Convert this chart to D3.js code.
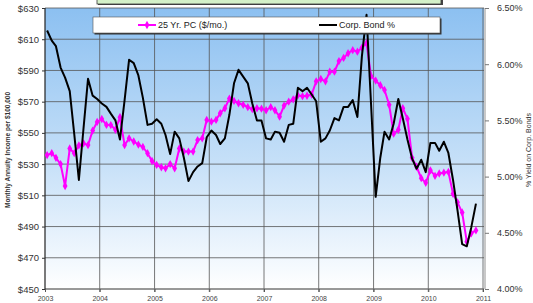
<!DOCTYPE html>
<html lang="en">
<head>
<meta charset="UTF-8">
<title>Annuity income vs. corporate bond yield</title>
<style>
body { margin: 0; background: #fff; }
text { font-family: Arial, "Liberation Sans", sans-serif; }
.axis .domain { display: none; }
</style>
</head>
<body>
<svg width="533" height="303"></svg>
<script src="https://d3js.org/d3.v7.min.js"></script>
<script>

// monthly readings, Jan 2003 .. Nov 2010
var payout = [
  535.8, 537, 534, 530, 516, 540, 537, 542, 543.3, 542.2, 551.5, 557,
  558.9, 555.1, 555, 552, 560, 542.2, 546.5, 544.5, 542.5, 541, 537, 532,
  529.5, 528, 527.3, 530, 527.3, 540, 538, 538, 538, 545.4, 546.5, 558.3,
  557.2, 558.3, 562.6, 565.8, 572, 570.5, 569, 568, 566.5, 565.2, 565.8, 565.5,
  564.5, 566.5, 564.5, 560.4, 567.5, 570, 571.5, 574, 573.5, 573.8, 574.5, 583,
  584.5, 583, 589.2, 589.2, 596, 598, 601, 603, 602, 604.5, 607.4, 586.5,
  583.5, 580.5, 577.5, 568, 549.5, 552, 565.8, 559, 534, 528.3, 521, 518,
  526, 522.5, 524, 524.5, 525, 511, 505.5, 499, 480.3, 485.7, 487.5
];
var bondYield = [
  6.30, 6.21, 6.16, 5.97, 5.88, 5.76, 5.38, 4.97, 5.43, 5.87, 5.72, 5.69,
  5.65, 5.62, 5.56, 5.50, 5.33, 5.68, 6.04, 6.01, 5.90, 5.70, 5.46, 5.47,
  5.51, 5.47, 5.37, 5.20, 5.40, 5.34, 5.17, 4.96, 5.04, 5.09, 5.12, 5.35,
  5.41, 5.37, 5.29, 5.34, 5.55, 5.83, 5.95, 5.89, 5.83, 5.65, 5.50, 5.50,
  5.34, 5.33, 5.40, 5.39, 5.31, 5.46, 5.47, 5.79, 5.76, 5.79, 5.73, 5.67,
  5.31, 5.34, 5.41, 5.52, 5.50, 5.62, 5.62, 5.68, 5.53, 6.07, 6.44, 5.65,
  4.82, 5.17, 5.40, 5.33, 5.47, 5.69, 5.52, 5.33, 5.16, 5.07, 5.15, 5.04,
  5.30, 5.30, 5.23, 5.31, 5.21, 4.97, 4.70, 4.40, 4.38, 4.55, 4.76
];
var years = [2003, 2004, 2005, 2006, 2007, 2008, 2009, 2010, 2011];
var incomeTicks = [450, 470, 490, 510, 530, 550, 570, 590, 610, 630];
var yieldTicks = [4.0, 4.5, 5.0, 5.5, 6.0, 6.5];
var legendNames = ["25 Yr. PC ($/mo.)", "Corp. Bond %"];

var svg = d3.select("svg"),
    plot = {left: 45, right: 484, top: 8, bottom: 289};

var x = d3.scaleTime()
    .domain([new Date(2003, 0, 1), new Date(2011, 0, 1)])
    .range([plot.left, 483]);
var y = d3.scaleLinear().domain([450, 630]).range([plot.bottom, plot.top]);
var y2 = d3.scaleLinear().domain([4, 6.5]).range([plot.bottom, plot.top]);

var month = function(i) { return new Date(2003, i, 15); };

var defs = svg.append("defs");
var grad = defs.append("linearGradient")
    .attr("id", "bg").attr("x1", 0).attr("y1", 0).attr("x2", 0).attr("y2", 1);
grad.append("stop").attr("offset", "0%").attr("stop-color", "#8cc0f1");
grad.append("stop").attr("offset", "55%").attr("stop-color", "#c6e0f8");
grad.append("stop").attr("offset", "100%").attr("stop-color", "#ffffff");

// cut-off title box at the very top
svg.append("rect")
    .attr("x", 98).attr("y", -10).attr("width", 345).attr("height", 15)
    .attr("fill", "#444");
svg.append("rect")
    .attr("x", 97).attr("y", -10).attr("width", 344).attr("height", 14)
    .attr("fill", "#d4f1c8").attr("stroke", "#3a3a3a").attr("stroke-width", 0.8);

svg.append("rect")
    .attr("x", plot.left).attr("y", plot.top)
    .attr("width", plot.right - plot.left).attr("height", plot.bottom - plot.top)
    .attr("fill", "url(#bg)");

// grid
svg.append("g")
  .selectAll("line")
  .data(incomeTicks)
  .enter().append("line")
    .attr("x1", plot.left).attr("x2", plot.right)
    .attr("y1", function(d) { return y(d); })
    .attr("y2", function(d) { return y(d); })
    .attr("stroke", "#555").attr("stroke-width", 0.8);

svg.append("g")
  .selectAll("line")
  .data(years.slice(1))
  .enter().append("line")
    .attr("x1", function(d) { return x(new Date(d, 0, 1)); })
    .attr("x2", function(d) { return x(new Date(d, 0, 1)); })
    .attr("y1", plot.top).attr("y2", plot.bottom + 3)
    .attr("stroke", "#555").attr("stroke-width", 0.8);

svg.append("line")
    .attr("x1", plot.right + 1).attr("x2", plot.right + 1)
    .attr("y1", plot.top).attr("y2", plot.bottom)
    .attr("stroke", "#777").attr("stroke-width", 0.8);
svg.append("line")
    .attr("x1", plot.left).attr("x2", plot.right)
    .attr("y1", plot.bottom).attr("y2", plot.bottom)
    .attr("stroke", "#777").attr("stroke-width", 1);
svg.append("line")
    .attr("x1", plot.left).attr("x2", plot.left)
    .attr("y1", plot.top).attr("y2", plot.bottom)
    .attr("stroke", "#222").attr("stroke-width", 1.2);

// axes
var ax = svg.append("g")
    .attr("class", "axis")
    .attr("transform", "translate(0," + plot.bottom + ")")
    .call(d3.axisBottom(x).tickValues(years.map(function(d) { return new Date(d, 0, 1); }))
      .tickFormat(d3.timeFormat("%Y")).tickSize(3).tickPadding(4));
ax.selectAll("line").attr("stroke", "#555");
ax.selectAll("text").attr("font-size", 7).attr("fill", "#444");

var ay = svg.append("g")
    .attr("class", "axis")
    .attr("transform", "translate(" + plot.left + ",0)")
    .call(d3.axisLeft(y).tickValues(incomeTicks).tickFormat(function(d) { return "$" + d; })
      .tickSize(3).tickPadding(3));
ay.selectAll("line").attr("stroke", "#333");
ay.selectAll("text").attr("font-size", 9.5).attr("fill", "#333");

var ay2 = svg.append("g")
    .attr("class", "axis")
    .attr("transform", "translate(" + (plot.right + 1) + ",0)")
    .call(d3.axisRight(y2).tickValues(yieldTicks).tickFormat(function(d) { return d3.format(".2f")(d) + "%"; })
      .tickSize(4).tickPadding(8));
ay2.selectAll("line").attr("stroke", "#777");
ay2.selectAll("text").attr("font-size", 9).attr("fill", "#333");

svg.append("text")
    .attr("transform", "translate(10,150) rotate(-90)")
    .attr("text-anchor", "middle")
    .attr("font-size", 6.5).attr("font-weight", "bold").attr("fill", "#333")
    .text("Monthly Annuity Income per $100,000");

svg.append("text")
    .attr("transform", "translate(531,150) rotate(-90)")
    .attr("text-anchor", "middle")
    .attr("font-size", 7).attr("fill", "#333")
    .text("% Yield on Corp. Bonds");

// series
var pcLine = d3.line()
    .x(function(d, i) { return x(month(i)); })
    .y(function(d) { return y(d); });
var bondLine = d3.line()
    .x(function(d, i) { return x(month(i)); })
    .y(function(d) { return y2(d); });

svg.append("path")
    .datum(payout)
    .attr("d", pcLine)
    .attr("fill", "none").attr("stroke", "#ff00ff").attr("stroke-width", 2);

svg.append("g")
  .selectAll("path")
  .data(payout)
  .enter().append("path")
    .attr("d", d3.symbol().type(d3.symbolDiamond).size(20))
    .attr("transform", function(d, i) { return "translate(" + x(month(i)) + "," + y(d) + ")"; })
    .attr("fill", "#ff00ff");

svg.append("path")
    .datum(bondYield)
    .attr("d", bondLine)
    .attr("fill", "none").attr("stroke", "#000").attr("stroke-width", 2)
    .attr("stroke-linejoin", "round");

// legend
svg.append("rect")
    .attr("x", 94.5).attr("y", 18.5).attr("width", 347).attr("height", 16)
    .attr("fill", "#333");
svg.append("rect")
    .attr("x", 93).attr("y", 17).attr("width", 347).attr("height", 16)
    .attr("fill", "#fff").attr("stroke", "#555").attr("stroke-width", 0.6);

var legend = svg.append("g")
  .selectAll("g")
  .data(legendNames)
  .enter().append("g")
    .attr("transform", function(d, i) { return "translate(" + (i == 0 ? 138 : 319) + ",25)"; });

legend.append("line")
    .attr("x1", 0).attr("x2", 18).attr("y1", 0).attr("y2", 0)
    .attr("stroke", function(d, i) { return i == 0 ? "#ff00ff" : "#000"; })
    .attr("stroke-width", 2);

legend.filter(function(d, i) { return i == 0; })
  .append("path")
    .attr("d", d3.symbol().type(d3.symbolDiamond).size(20))
    .attr("transform", "translate(9,0)")
    .attr("fill", "#ff00ff");

legend.append("text")
    .attr("x", 20).attr("y", 3.3)
    .attr("font-size", 9).attr("fill", "#222")
    .text(function(d) { return d; });

</script>
</body>
</html>
